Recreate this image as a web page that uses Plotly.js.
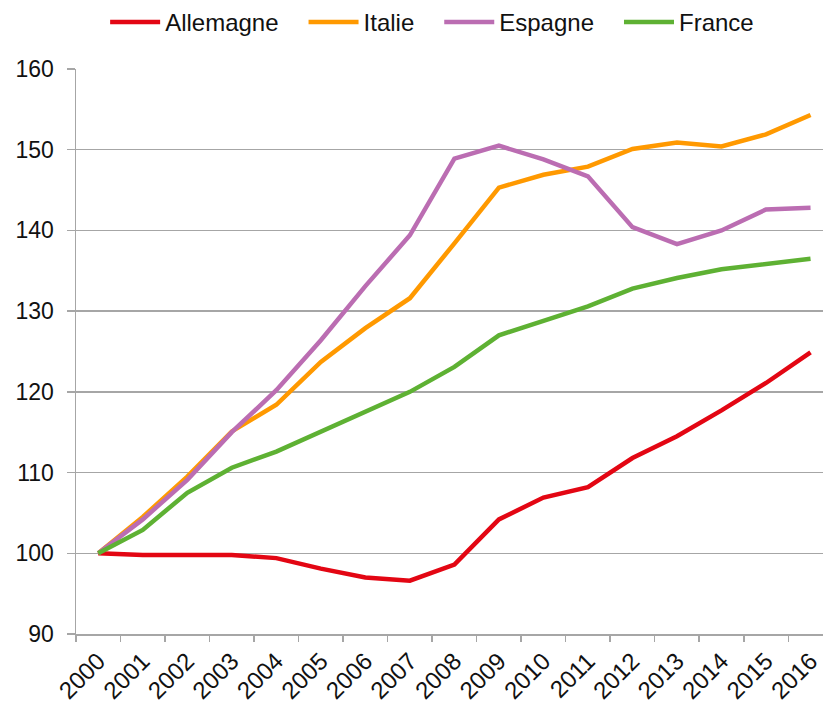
<!DOCTYPE html>
<html>
<head>
<meta charset="utf-8">
<script src="https://cdn.plot.ly/plotly-3.0.1.min.js"></script>
<style>
html,body{margin:0;padding:0;background:#fff;overflow:hidden;}
#chart{width:823px;height:706px;}
</style>
</head>
<body>
<div id="chart"></div>
<script>
const years = ["2000","2001","2002","2003","2004","2005","2006","2007","2008","2009","2010","2011","2012","2013","2014","2015","2016"];
const allemagne = [100, 99.8, 99.8, 99.8, 99.4, 98.1, 97.0, 96.6, 98.6, 104.2, 106.9, 108.2, 111.8, 114.5, 117.7, 121.1, 124.9];
const italie    = [100, 104.5, 109.5, 115.1, 118.4, 123.7, 127.9, 131.6, 138.4, 145.3, 146.9, 147.9, 150.1, 150.9, 150.4, 151.9, 154.3];
const espagne   = [100, 104.2, 109.1, 115.0, 120.2, 126.4, 133.1, 139.4, 148.9, 150.5, 148.8, 146.7, 140.4, 138.3, 140.0, 142.6, 142.8];
const france    = [100, 102.9, 107.5, 110.6, 112.6, 115.1, 117.5, 120.0, 123.1, 127.0, 128.8, 130.6, 132.8, 134.1, 135.2, 135.8, 136.5];
const seriesNames = ["Allemagne","Italie","Espagne","France"];
const seriesColors = ["#e30613","#ff9900","#bb6db2","#5eb133"];
const seriesData = [allemagne, italie, espagne, france];

const traces = seriesData.map((d,i)=>({
  type:"scatter", mode:"lines", x:years, y:d, name:seriesNames[i] + "\u00a0\u00a0\u00a0",
  line:{color:seriesColors[i], width:4.5}
}));

const font = "Arial, 'Liberation Sans', sans-serif";
const layout = {
  width:823, height:706,
  margin:{l:76, r:0, t:68, b:72},
  paper_bgcolor:"#fff", plot_bgcolor:"#fff",
  font:{family:font, size:23, color:"#111"},
  showlegend:true,
  legend:{orientation:"h", x:0.039, xanchor:"left", y:1.083, yanchor:"middle",
          font:{family:font, size:24, color:"#111"}, itemwidth:50},
  xaxis:{type:"category", range:[-0.5,16.28], tickangle:-45, ticks:"outside", tickson:"boundaries",
         ticklen:6, tickcolor:"#a6a6a6", tickwidth:1.5, showline:true, linecolor:"#a6a6a6", linewidth:1.5,
         showgrid:false, zeroline:false, fixedrange:true, tickfont:{size:24}, ticklabelstandoff:2},
  yaxis:{range:[90,160], dtick:10, tick0:90, ticks:"outside", ticklen:8, tickcolor:"#a6a6a6", tickwidth:1.5,
         showline:true, linecolor:"#a6a6a6", linewidth:1.5, showgrid:true, gridcolor:"#a6a6a6", gridwidth:1.5,
         zeroline:false, ticklabelstandoff:8, tickfont:{size:23}, fixedrange:true}
};
Plotly.newPlot("chart", traces, layout, {displayModeBar:false, staticPlot:true});
</script>
</body>
</html>
